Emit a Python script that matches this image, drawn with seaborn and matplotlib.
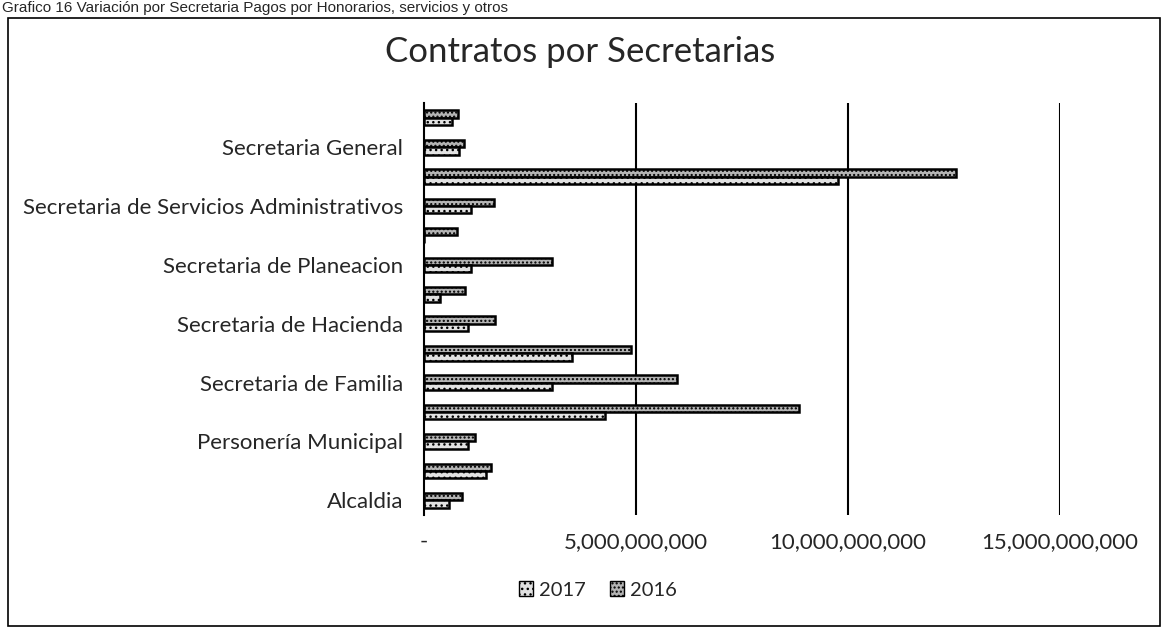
import numpy as np
import pandas as pd
import matplotlib
matplotlib.use("Agg")
import matplotlib.pyplot as plt
import seaborn as sns
from matplotlib.patches import Patch, Rectangle
from matplotlib.ticker import FuncFormatter

# categories listed top to bottom as they appear in the chart
# (only every other label is printed on the axis, as in the original)
secretarias = [
    "Secretaria de Transito",
    "Secretaria General",
    "Secretaria de Salud",
    "Secretaria de Servicios Administrativos",
    "Secretaria de Medio Ambiente",
    "Secretaria de Planeacion",
    "Secretaria de Infraestructura",
    "Secretaria de Hacienda",
    "Secretaria de Gobierno",
    "Secretaria de Familia",
    "Secretaria de Educacion",
    "Personería Municipal",
    "Control Interno",
    "Alcaldia",
]
shown = [False, True] * 7

# values in pesos
valores_2016 = [0.80e9, 0.95e9, 12.55e9, 1.65e9, 0.78e9, 3.03e9, 0.97e9,
                1.68e9, 4.88e9, 5.97e9, 8.85e9, 1.21e9, 1.59e9, 0.89e9]
valores_2017 = [0.66e9, 0.83e9, 9.77e9, 1.12e9, 0.0, 1.10e9, 0.38e9,
                1.03e9, 3.50e9, 3.01e9, 4.26e9, 1.03e9, 1.46e9, 0.58e9]
anios = ["2016", "2017"]
x_ticks = [0, 5e9, 10e9, 15e9]

df = pd.DataFrame({
    "Secretaria": secretarias * 2,
    "Valor": valores_2016 + valores_2017,
    "Anio": ["2016"] * len(secretarias) + ["2017"] * len(secretarias),
})

sns.set_style("white")
plt.rcParams["font.family"] = ["Lato", "DejaVu Sans"]

fig = plt.figure(figsize=(11.64, 6.31), dpi=100)
ax = fig.add_axes([424 / 1164, 1 - 515 / 631, (1060 - 424) / 1164, (515 - 103) / 631])

colors = {"2016": "#b4b4b4", "2017": "#e2e2e2"}
sns.barplot(data=df, y="Secretaria", x="Valor", hue="Anio", hue_order=anios,
            order=secretarias, orient="h", width=0.5, palette=colors,
            edgecolor="black", linewidth=1.8, legend=False, ax=ax)

hatches = {"2016": "....", "2017": "..."}
for cont, anio in zip(ax.containers, anios):
    for bar in cont:
        bar.set_hatch(hatches[anio])

ax.set_xlim(0, 15e9)
ax.set_ylim(13.5, -0.5)
ax.set_xticks(x_ticks)
ax.xaxis.set_major_formatter(FuncFormatter(lambda v, p: "-" if v == 0 else f"{v:,.0f}"))
ax.set_yticks(range(len(secretarias)))
ax.set_yticklabels([s if show else "" for s, show in zip(secretarias, shown)])
ax.set_yticks(np.arange(-0.5, len(secretarias)), minor=True)
ax.tick_params(axis="y", which="major", length=0, pad=15, labelsize=16)
ax.tick_params(axis="y", which="minor", length=5, width=1.2, direction="out", color="black")
ax.tick_params(axis="x", length=0, pad=12, labelsize=16)
ax.set_xlabel("")
ax.set_ylabel("")

for v in x_ticks[1:]:
    ax.axvline(v, color="black", linewidth=1.5, zorder=0)
for side in ["top", "right", "bottom"]:
    ax.spines[side].set_visible(False)
ax.spines["left"].set_color("black")
ax.spines["left"].set_linewidth(1.5)

fig.text(580 / 1164, 1 - 52 / 631, "Contratos por Secretarias", ha="center", va="center",
         fontsize=25)
fig.text(2 / 1164, 1 - 1 / 631, "Grafico 16 Variación por Secretaria Pagos por Honorarios, servicios y otros",
         ha="left", va="top", fontsize=11, family=["Liberation Sans", "DejaVu Sans"])

# outer chart frame
fig.patches.append(Rectangle((8 / 1164, 1 - 626 / 631), (1160 - 8) / 1164, (626 - 18) / 631,
                             transform=fig.transFigure, fill=False, edgecolor="black", linewidth=1.2))

handles = [Patch(facecolor=colors[a], edgecolor="black", hatch=hatches[a], label=a) for a in ["2017", "2016"]]
fig.legend(handles=handles, loc="center", bbox_to_anchor=(598 / 1164, 1 - 590 / 631), ncol=2,
           frameon=False, fontsize=14.5, handlelength=0.7, handleheight=0.7,
           handletextpad=0.3, columnspacing=1.2)

fig.savefig("out.png", dpi=100)
